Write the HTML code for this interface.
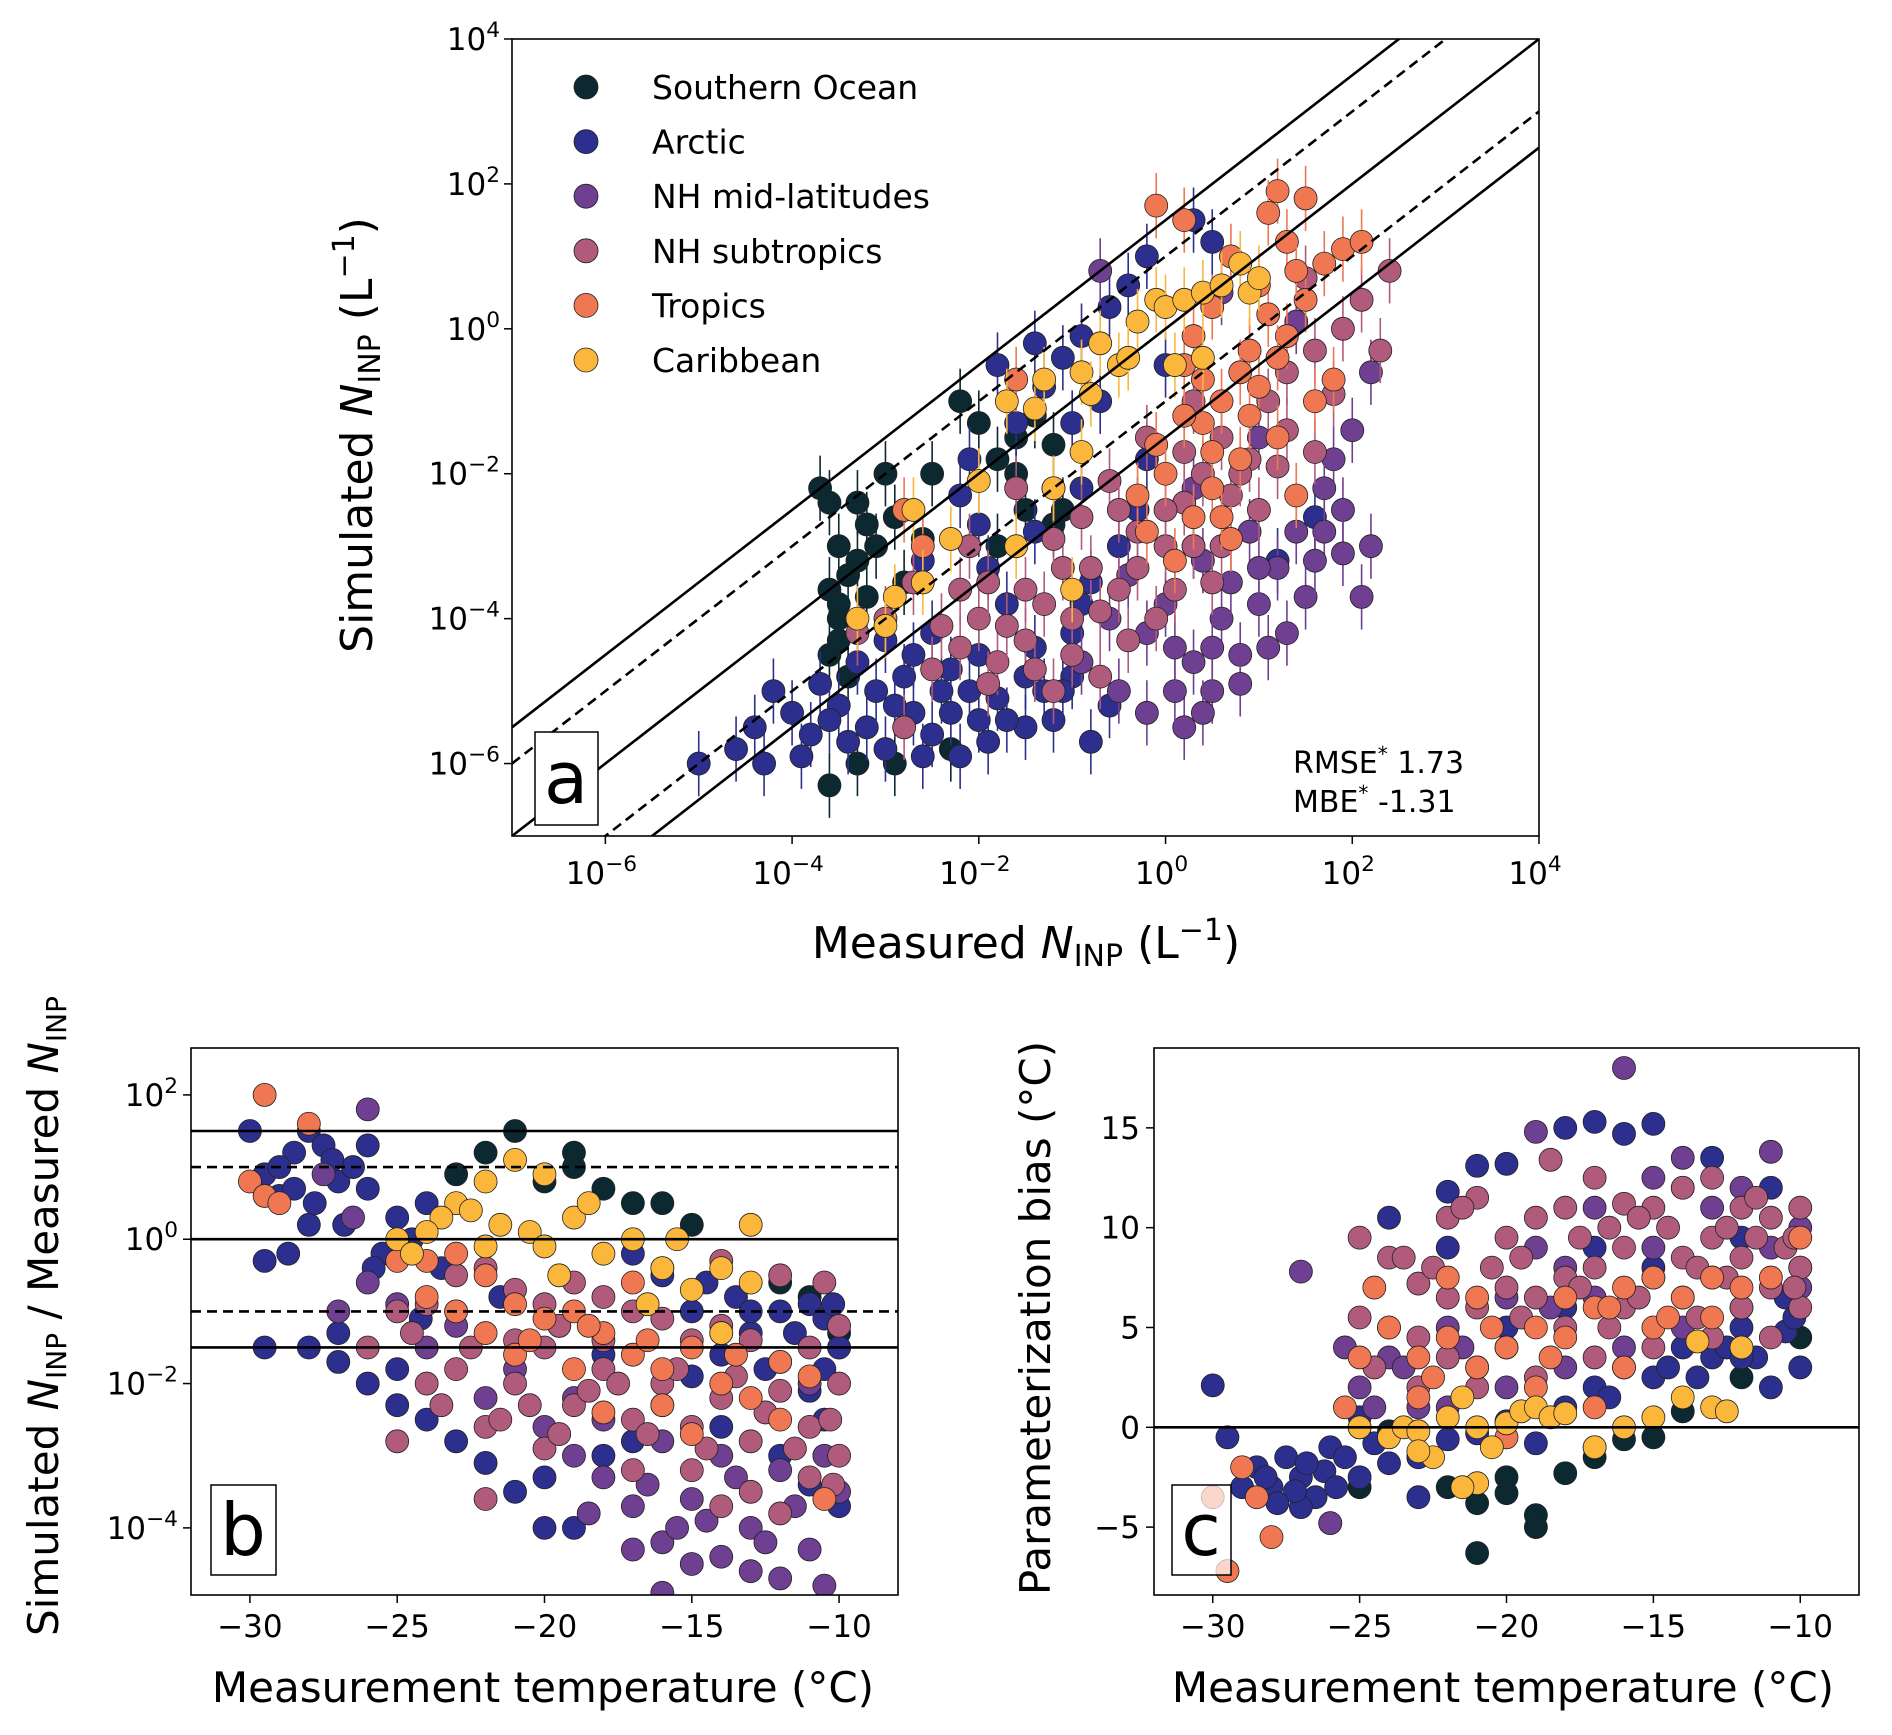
<!DOCTYPE html>
<html><head><meta charset="utf-8"><style>
html,body{margin:0;padding:0;background:#fff;}
svg{display:block;font-family:"DejaVu Sans","Liberation Sans",sans-serif;}
</style></head><body>
<svg id="fig" width="1892" height="1735" viewBox="0 0 1892 1735" xmlns="http://www.w3.org/2000/svg"></svg>
<script>
const seriesNames = ["Southern Ocean","Arctic","NH mid-latitudes","NH subtropics","Tropics","Caribbean"];
const seriesColors = ["#0c2831","#2c2f8e","#6f3f92","#b05a7c","#ef7752","#fbb73c"];
// Panel a: [log10 measured, log10 simulated]
const aSO = [[-3.7,-2.2],[-3.6,-2.4],[-3.3,-2.4],[-3.0,-2.0],[-3.2,-2.7],[-3.5,-3.0],[-3.4,-3.4],[-3.6,-3.6],[-3.5,-4.0],[-3.6,-4.5],[-3.4,-4.8],[-3.6,-6.3],[-2.2,-1.0],[-2.0,-1.3],[-1.6,-1.5],[-1.4,-1.2],[-1.2,-1.6],[-1.5,-2.5],[-1.2,-2.7],[-1.1,-2.5],[-2.5,-2.0],[-2.8,-3.5],[-2.3,-5.8],[-2.9,-6.0],[-3.3,-6.0],[-1.8,-3.0],[-3.1,-3.0],[-2.9,-2.6],[-3.5,-3.8],[-1.8,-1.8],[-1.6,-2.0],[-3.3,-3.2],[-3.5,-4.3],[-3.2,-3.7],[-2.6,-2.9]];
const aArctic = [[-5,-6],[-4.6,-5.8],[-4.3,-6.0],[-4.0,-5.3],[-4.2,-5.0],[-3.8,-5.6],[-3.5,-5.2],[-3.2,-5.5],[-3.0,-5.8],[-2.7,-5.3],[-2.5,-5.6],[-2.2,-5.9],[-2.0,-5.4],[-1.8,-5.1],[-1.5,-5.5],[-1.5,-4.8],[-1.3,-5.0],[-2.4,-5.0],[-2.8,-4.8],[-3.3,-4.6],[-2.0,-4.5],[-1.0,-4.2],[-0.8,-3.5],[-1.7,-3.8],[-2.6,-3.2],[-2.2,-2.3],[-2.1,-1.8],[-1.6,-1.3],[-1.3,-0.8],[-1.1,-0.4],[-0.9,-0.1],[-0.6,0.3],[-0.4,0.6],[-0.2,1.0],[0.3,1.5],[0.5,1.2],[-0.3,-2.5],[0.3,-3.0],[1.2,-3.2],[1.6,-2.6],[-0.8,-5.7],[-1.0,-4.8],[-0.5,-3.0],[0.0,-0.5],[-3.9,-5.9],[-3.4,-5.7],[-2.9,-5.2],[-2.3,-5.3],[-1.9,-5.7],[-1.2,-5.4],[-3.7,-4.9],[-3.0,-4.3],[-2.5,-4.2],[-1.9,-3.3],[-1.4,-2.8],[-0.9,-2.2],[-0.7,-1.0],[-1.8,-0.5],[-1.4,-0.2],[-0.2,-1.8],[-3.6,-5.4],[-3.1,-5.0],[-2.6,-5.9],[-2.1,-5.0],[-1.7,-5.4],[-1.1,-5.0],[-4.4,-5.5],[-2.7,-4.5],[-2.3,-4.7],[-1.4,-4.4],[-0.6,-5.2],[-0.9,-3.8],[-2.0,-2.7],[-1.0,-1.3]];
const aMid = [[-0.5,-5.0],[-0.2,-5.3],[0.2,-5.5],[0.5,-5.0],[0.8,-4.5],[0.6,-4.0],[1.0,-3.8],[1.2,-3.3],[1.5,-3.7],[1.3,-4.2],[0.3,-4.6],[-0.2,-4.2],[1.7,-2.8],[1.9,-2.5],[2.2,-3.0],[2.1,-3.7],[0.4,-3.2],[0.9,-2.8],[0.0,-3.8],[1.8,-1.8],[2.0,-1.4],[-0.7,0.8],[0.6,0.5],[1.4,0.1],[2.2,-0.6],[1.0,-1.5],[-0.9,-4.6],[-0.4,-3.4],[0.7,-3.5],[1.6,-3.2],[-0.6,-4.0],[0.1,-5.0],[1.1,-4.4],[0.3,-2.2],[0.8,-4.9],[0.4,-5.3],[1.4,-2.8],[1.0,-3.3],[0.5,-4.4],[1.7,-2.2],[0.1,-4.4],[1.9,-3.1]];
const aSub = [[-3.3,-4.2],[-3.0,-4.0],[-2.8,-5.5],[-2.5,-4.7],[-2.2,-4.4],[-2.0,-4.0],[-1.8,-4.6],[-1.5,-4.3],[-1.3,-3.8],[-1.0,-4.0],[-0.8,-3.3],[-0.5,-3.6],[-0.3,-2.8],[0.0,-3.0],[0.2,-2.4],[0.4,-2.0],[0.6,-1.5],[0.9,-1.8],[1.1,-1.0],[1.3,-0.6],[1.6,-0.3],[1.9,0.0],[2.1,0.4],[2.4,0.8],[1.6,-1.7],[0.5,-3.5],[-0.9,-2.6],[-2.1,-3.0],[-1.6,-2.2],[-0.2,-1.5],[1.0,-2.5],[2.3,-0.3],[-1.2,-5.0],[-0.7,-4.8],[0.3,-1.0],[1.5,0.7],[-2.7,-3.5],[-2.4,-4.1],[-1.9,-3.5],[-1.1,-3.3],[-0.4,-4.3],[0.1,-3.6],[0.7,-2.3],[1.3,-1.4],[1.8,-0.9],[-1.5,-3.6],[-0.6,-2.1],[0.2,-1.7],[-1.7,-4.1],[-1.4,-4.7],[-1.0,-4.5],[-0.7,-3.9],[-0.3,-3.3],[0.0,-2.5],[0.3,-3.0],[-0.5,-2.5],[-1.2,-2.9],[-2.2,-3.6],[-1.9,-4.9],[-0.1,-4.0],[0.6,-3.0],[0.8,-2.0],[1.2,-1.9]];
const aTrop = [[-0.2,-2.8],[0.1,-3.2],[0.3,-2.6],[0.5,-2.2],[0.7,-2.9],[0.8,-1.8],[0.4,-1.3],[0.6,-1.0],[1.0,-0.8],[1.2,-1.5],[0.9,-0.3],[1.1,0.2],[1.3,-0.1],[1.5,0.4],[1.7,0.9],[1.9,1.1],[1.3,1.2],[1.0,0.6],[0.2,-0.5],[-0.1,-1.6],[0.5,0.3],[0.7,1.0],[1.4,-2.3],[1.8,-0.7],[2.1,1.2],[0.2,1.5],[-0.1,1.7],[1.2,1.9],[1.5,1.8],[1.1,1.6],[-2.8,-2.5],[-2.6,-3.0],[-1.6,-0.7],[-1.2,-2.2],[0.0,-2.0],[1.6,-1.0],[0.3,-0.1],[0.8,-0.6],[1.4,0.8],[0.6,-2.6],[0.2,-1.2],[0.5,-1.7],[0.9,-1.2],[1.2,-0.4],[-0.3,-2.3],[0.4,-0.7]];
const aCarib = [[-2.3,-2.9],[-2.6,-3.5],[-3.3,-4.0],[-2.9,-3.7],[-3.0,-4.1],[-2.7,-2.5],[-2.0,-2.1],[-1.7,-1.0],[-1.4,-1.1],[-1.2,-2.2],[-1.0,-3.6],[-1.6,-3.0],[-1.3,-0.7],[-0.9,-0.6],[-0.8,-0.9],[-0.7,-0.2],[-0.5,-0.5],[-0.3,0.1],[-0.1,0.4],[0.0,0.3],[0.2,0.4],[0.4,0.5],[0.6,0.6],[0.8,0.9],[0.9,0.5],[1.0,0.7],[0.4,-0.4],[0.1,-0.5],[-0.4,-0.4],[-0.9,-1.7]];
// Panel b: [temperature, log10 ratio]
const bSO = [[-21,1.5],[-22,1.2],[-19,1.2],[-19,1.0],[-23,0.9],[-18,0.7],[-17,0.5],[-16,0.5],[-15,0.2],[-12,-0.6],[-11,-0.8],[-10,-1.3],[-10,-1.5],[-20,0.8]];
const bArctic = [[-30,1.5],[-29.5,0.9],[-29,0.6],[-28.5,1.2],[-28,1.5],[-27.5,1.3],[-27,0.8],[-26.5,1.0],[-26,0.7],[-25,0.3],[-24,0.5],[-29.5,-0.3],[-28.7,-0.2],[-28,-1.5],[-27,-1.7],[-26,-2.0],[-25,-2.3],[-24,-2.5],[-23,-2.8],[-22,-3.1],[-21,-3.5],[-20,-3.3],[-19,-4.0],[-18,-3.0],[-17,-2.8],[-16,-2.3],[-15,-1.9],[-14,-1.6],[-13,-1.3],[-12,-1.0],[-11,-0.9],[-10.5,-1.1],[-10,-1.5],[-16,-0.5],[-14.5,-0.6],[-13.5,-0.8],[-20,-4.0],[-29.5,-1.5],[-27,-1.3],[-25,-1.8],[-12,-3.0],[-11,-3.4],[-10,-3.7],[-10.5,-2.5],[-15,-1.0],[-28,0.2],[-26,1.3],[-24.5,0.0],[-17,-0.2],[-28.5,0.7],[-27.2,1.1],[-25.5,-0.2],[-23.5,-0.4],[-21.5,-0.8],[-19.5,-1.2],[-18,-1.6],[-14,-2.6],[-12.5,-1.8],[-11,-2.1],[-10.2,-0.9],[-29,1.0],[-27.8,0.5],[-26.8,0.2],[-25.8,-0.4],[-24.2,-1.1],[-13,-1.0],[-11.5,-1.3],[-10.5,-1.8]];
const bMid = [[-26,1.8],[-27.5,0.9],[-26.5,0.3],[-27,-1.0],[-26,-0.6],[-25,-0.9],[-23,-1.2],[-21,-1.8],[-20,-2.6],[-19,-2.2],[-18,-3.3],[-17,-3.7],[-16,-4.2],[-16,-4.9],[-15,-4.5],[-14,-4.4],[-13,-4.0],[-12,-4.7],[-11,-4.3],[-10.5,-4.8],[-10,-3.5],[-12,-3.2],[-14,-3.0],[-16,-2.8],[-18,-2.5],[-22,-2.2],[-24,-1.5],[-15,-3.6],[-13,-4.6],[-17,-4.3],[-19,-3.0],[-11,-2.0],[-18.5,-3.8],[-15.5,-4.0],[-13.5,-3.3],[-11.5,-3.7],[-16.5,-3.4],[-14.5,-3.9],[-12.5,-4.2],[-10.5,-3.0]];
const bSub = [[-25,-2.8],[-26,-1.5],[-24,-2.0],[-23,-1.8],[-22,-2.6],[-21,-2.0],[-20,-1.5],[-19,-2.3],[-18,-1.8],[-17,-2.5],[-16,-2.0],[-15,-2.6],[-14,-2.2],[-13,-2.8],[-12,-2.1],[-11,-2.6],[-10,-2.0],[-10,-1.2],[-11,-1.5],[-12,-1.7],[-13,-1.4],[-14,-1.2],[-15,-1.4],[-16,-1.1],[-17,-1.0],[-18,-0.8],[-19,-0.6],[-20,-0.9],[-21,-0.7],[-22,-0.4],[-23,-0.5],[-24,-0.9],[-25,-1.0],[-10,-3.0],[-11,-3.3],[-13,-3.5],[-15,-3.2],[-17,-3.2],[-12,-3.8],[-14,-3.7],[-20,-2.9],[-22,-3.6],[-16,-0.4],[-14,-0.3],[-12,-0.5],[-10.5,-0.6],[-18,-1.4],[-23,-1.0],[-21,-1.4],[-24.5,-1.3],[-22.5,-1.5],[-20.5,-2.3],[-18.5,-2.1],[-16.5,-2.7],[-14.5,-2.9],[-12.5,-2.4],[-10.3,-2.5],[-19.5,-1.2],[-23.5,-2.3],[-21.5,-2.5],[-19.5,-2.7],[-17.5,-2.0],[-15.5,-1.8],[-13.5,-1.9],[-11.5,-2.9],[-10.2,-3.4]];
const bTrop = [[-29.5,2.0],[-30,0.8],[-29.5,0.6],[-29,0.5],[-28,1.6],[-25,-0.3],[-24,-0.3],[-23,-0.2],[-22,-0.5],[-21,-0.9],[-20,-1.1],[-19,-1.0],[-18,-1.3],[-17,-1.6],[-16,-1.8],[-15,-1.5],[-14,-2.0],[-13,-2.2],[-12,-1.7],[-11,-1.9],[-10.5,-3.6],[-17,-0.6],[-16,-2.3],[-18,-2.4],[-22,-1.3],[-24,-0.8],[-21,-1.6],[-23,-1.0],[-14,-1.3],[-12,-2.5],[-19,-1.8],[-15,-2.7],[-20.5,-1.4],[-18.5,-1.2],[-16.5,-1.4],[-13.5,-1.6]];
const bCarib = [[-21,1.1],[-22,0.8],[-23,0.5],[-23.5,0.3],[-24,0.1],[-22.5,0.4],[-21.5,0.2],[-20.5,0.1],[-20,-0.1],[-19,0.3],[-18.5,0.5],[-18,-0.2],[-17,0.0],[-16,-0.4],[-15,-0.7],[-14,-0.4],[-13,-0.6],[-25,0.0],[-24.5,-0.2],[-19.5,-0.5],[-22,-0.1],[-16.5,-0.9],[-14,-1.3],[-13,0.2],[-15.5,0.0],[-20,0.9]];
// Panel c: [temperature, bias]
const cSO = [[-24,-0.2],[-23,-1.5],[-22,-3.0],[-21,-6.3],[-21,-3.8],[-20,-3.3],[-19,-4.4],[-19,-5.0],[-18,-2.3],[-17,-1.5],[-16,-0.6],[-15,-0.5],[-14,0.8],[-12,2.5],[-10,4.5],[-20,-2.5],[-25,-3.0]];
const cArctic = [[-30,2.1],[-29.5,-0.5],[-29,-3.0],[-28.5,-2.0],[-28,-3.0],[-27.5,-1.5],[-27,-2.5],[-26.5,-3.5],[-26,-1.0],[-26,-4.8],[-25,0.5],[-24,-1.8],[-23,-1.5],[-22,-0.6],[-21,-0.3],[-20,0.3],[-19,-0.8],[-18,1.0],[-17,2.0],[-16,3.0],[-15,2.5],[-14,4.0],[-13,3.5],[-12,5.0],[-11,2.0],[-10,3.0],[-24,10.5],[-22,11.8],[-21,13.1],[-20,13.2],[-18,15.0],[-17,15.3],[-16,14.7],[-15,15.2],[-13,13.5],[-11,12.0],[-15,8.0],[-18,6.0],[-20,5.0],[-17,9.0],[-12,9.5],[-10,8.0],[-22,9.0],[-14,12.0],[-27,-4.0],[-25,-2.5],[-23,-3.5],[-10.5,4.8],[-28.2,-2.5],[-27.2,-3.2],[-26.2,-2.2],[-25.5,-1.5],[-24.5,-0.8],[-16.5,1.5],[-13.5,2.5],[-12.5,4.0],[-11.5,3.5],[-10.5,6.5],[-27.8,-3.8],[-26.8,-1.8],[-25.8,-3.0],[-14.5,3.0],[-12,3.5],[-10.2,5.5]];
const cMid = [[-27,7.8],[-25.5,4.0],[-25,2.0],[-24,3.5],[-23,1.0],[-22,5.0],[-21,3.0],[-20,6.5],[-19,9.0],[-18,8.0],[-17,11.0],[-16,18.0],[-15,12.5],[-14,13.5],[-13,11.0],[-12,12.0],[-11,13.8],[-10,10.0],[-10,7.0],[-12,6.0],[-14,5.0],[-16,4.0],[-18,3.0],[-20,2.0],[-22,1.0],[-19,14.8],[-26,-4.8],[-25,0.0],[-17,6.5],[-13,7.5],[-11,9.0],[-15,9.0],[-24.5,1.0],[-23.5,3.0],[-21.5,4.0],[-18.5,6.0]];
const cSub = [[-25,9.5],[-24,8.5],[-23,7.2],[-22,10.5],[-21,11.5],[-20,9.5],[-19,10.5],[-18,11.0],[-17,12.5],[-16,11.2],[-15,11.0],[-14,12.0],[-13,12.5],[-12,11.0],[-11,10.5],[-10,11.0],[-10,8.0],[-11,7.0],[-12,8.5],[-13,9.5],[-14,8.5],[-15,7.5],[-16,9.0],[-17,8.0],[-18,7.5],[-19,6.5],[-20,7.0],[-21,6.0],[-22,6.5],[-23,4.5],[-24,5.0],[-25,5.5],[-24.5,3.0],[-22,3.5],[-20,4.0],[-18,5.0],[-16,6.0],[-14,6.5],[-12,6.0],[-10,6.0],[-11,4.5],[-13,4.5],[-15,4.0],[-17,3.5],[-19,2.5],[-21,2.0],[-23,2.0],[-18.5,13.4],[-21.5,11.0],[-12.5,10.0],[-10.5,9.0],[-16.5,10.0],[-14.5,10.0],[-23.5,8.5],[-20.5,8.0],[-17.5,9.5],[-15.5,10.5],[-13.5,8.0],[-11.5,9.5],[-10.2,9.5],[-19.5,5.5],[-16.5,5.0],[-13.5,5.5],[-22.5,8.0],[-19.5,8.5],[-17.5,7.0],[-15.5,6.5],[-12.5,7.5],[-11.5,11.5],[-10.2,7.0]];
const cTrop = [[-30,-3.5],[-29.5,-7.2],[-29,-2.0],[-28.5,-3.5],[-28,-5.5],[-25.5,1.0],[-24.5,7.0],[-25,3.5],[-24,5.0],[-23,3.5],[-22,4.5],[-21,3.0],[-20,4.0],[-19,5.0],[-18,4.5],[-17,6.0],[-16,7.0],[-15,7.5],[-14,6.5],[-13,7.5],[-12,7.0],[-10,9.5],[-21,6.5],[-19,2.0],[-17,1.0],[-23,1.5],[-22,7.5],[-15,5.0],[-18,6.5],[-20,-0.5],[-17,-1.0],[-16,3.0],[-13,5.5],[-11,7.5],[-22.5,2.5],[-20.5,5.0],[-18.5,3.5],[-16.5,6.0],[-14.5,5.5]];
const cCarib = [[-25,0.0],[-24,-0.5],[-23.5,0.0],[-23,-0.2],[-22.5,-1.5],[-22,0.5],[-21.5,1.5],[-21,0.0],[-21,-2.8],[-20.5,-1.0],[-20,0.2],[-19.5,0.8],[-19,1.0],[-18.5,0.5],[-18,0.7],[-17,-1.0],[-16,0.0],[-15,0.5],[-14,1.5],[-13,1.0],[-12.5,0.8],[-12,4.0],[-13.5,4.3],[-23,-1.2],[-21.5,-3.0]];
const aTicks = [-6,-4,-2,0,2,4];
const aYTicks = [4,2,0,-2,-4,-6];
const bYTicks = [2,0,-2,-4];
const tTicks = [-30,-25,-20,-15,-10];
const cYTicks = [-5,0,5,10,15];
const aLineFactors = [1.5,1,0,-1,-1.5];
const bLineValues = [1.5,1,0,-1,-1.5];

const NS="http://www.w3.org/2000/svg";
const svg=document.getElementById('fig');
function mk(tag,attrs,parent){const e=document.createElementNS(NS,tag);for(const k in attrs)e.setAttribute(k,attrs[k]);(parent||svg).appendChild(e);return e;}
function lin(d0,d1,r0,r1){return v=>r0+(v-d0)*(r1-r0)/(d1-d0);}

const AX0=512,AX1=1539,AY0=39,AY1=836;
const ax=lin(-7,4,AX0,AX1), ay=lin(-7,4,AY1,AY0);
const bx=lin(-32,-8,191,898), by=lin(-4.93,2.65,1595,1048);
const cx=lin(-32,-8,1154,1859), cy=lin(-8.4,19,1595,1048);

function clip(id,x,y,w,h){const d=mk('clipPath',{id:id});mk('rect',{x:x,y:y,width:w,height:h},d);}
clip('ca',AX0,AY0,AX1-AX0,AY1-AY0);clip('cb',191,1048,707,547);clip('cc',1154,1048,705,547);

function text(x,y,s,size,anchor,parent){const t=mk('text',{x:x,y:y,'font-size':size,'text-anchor':anchor||'middle',fill:'#000'},parent);t.textContent=s;return t;}
function pow10(x,y,e,size,anchor,parent){const t=mk('text',{x:x,y:y,'font-size':size,'text-anchor':anchor,fill:'#000'},parent);
 const a=document.createElementNS(NS,'tspan');a.textContent='10';t.appendChild(a);
 const b=document.createElementNS(NS,'tspan');b.setAttribute('dy',-size*0.42);b.setAttribute('font-size',size*0.7);b.textContent=(e<0?'\u2212':'')+Math.abs(e);t.appendChild(b);return t;}

function scatter(g,data,color,X,Y,err){
 data.forEach(p=>{
  if(err){const l=mk('line',{x1:X(p[0]),x2:X(p[0]),y1:Y(p[1]-0.45),y2:Y(p[1]+0.45),stroke:color,'stroke-width':1.6},g);
   
   }
  const c=mk('circle',{cx:X(p[0]),cy:Y(p[1]),r:11.5,fill:color,stroke:'#222','stroke-width':0.8},g);
  
  
 });
}

// ---------- Panel a ----------
const ga=mk('g',{});
const gaData=mk('g',{'clip-path':'url(#ca)'},ga);


[aSO,aArctic,aMid,aSub,aTrop,aCarib].forEach((d,i)=>scatter(gaData,d,seriesColors[i],ax,ay,true));
aLineFactors.forEach(f=>{
 const l=mk('line',{x1:ax(-7),y1:ay(-7+f),x2:ax(4),y2:ay(4+f),stroke:'#000','stroke-width':2.6,'stroke-dasharray':(Math.abs(f)===1?'10,6':'none')},gaData);
 
 
});
mk('rect',{x:AX0,y:AY0,width:AX1-AX0,height:AY1-AY0,fill:'none',stroke:'#000','stroke-width':1.6},ga);
aTicks.forEach(t=>{
 mk('line',{x1:ax(t),x2:ax(t),y1:AY1,y2:AY1+8,stroke:'#000','stroke-width':1.5},ga);
 const tl=pow10(ax(t)-4,884,t,31,'middle',ga);
});
aYTicks.forEach(t=>{
 mk('line',{x1:AX0-8,x2:AX0,y1:ay(t),y2:ay(t),stroke:'#000','stroke-width':1.5},ga);
 const tl=pow10(500,ay(t)+11,t,31,'end',ga);
});
const lg=mk('g',{},ga);
seriesNames.forEach((n,i)=>{
 const y=87+i*54.6;
 const c=mk('circle',{cx:586,cy:y,r:12,fill:seriesColors[i],stroke:'#222','stroke-width':0.8},lg);
 
 const t=text(652,y+12,n,33,'start',lg);
});
const la=mk('rect',{x:535,y:732,width:63,height:93,fill:'#fff',stroke:'#000','stroke-width':1.5},ga);

text(566,803,'a',72,'middle',ga);
const r1=mk('text',{x:1293,y:773,'font-size':30,fill:'#000'},ga);
r1.innerHTML='RMSE<tspan dy="-12" font-size="20">*</tspan><tspan dy="12"> 1.73</tspan>';
const r2=mk('text',{x:1293,y:812,'font-size':30,fill:'#000'},ga);
r2.innerHTML='MBE<tspan dy="-12" font-size="20">*</tspan><tspan dy="12"> -1.31</tspan>';
const xa=mk('text',{x:1026,y:958,'font-size':44,'text-anchor':'middle',fill:'#000'},ga);
xa.innerHTML='Measured <tspan font-style="italic">N</tspan><tspan font-size="30" dy="8">INP</tspan><tspan dy="-8"> (L</tspan><tspan font-size="30" dy="-18">\u22121</tspan><tspan dy="18">)</tspan>';
const ya=mk('text',{x:0,y:0,'font-size':44,'text-anchor':'middle',fill:'#000',transform:'translate(372,435) rotate(-90)'},ga);
ya.innerHTML='Simulated <tspan font-style="italic">N</tspan><tspan font-size="30" dy="8">INP</tspan><tspan dy="-8"> (L</tspan><tspan font-size="30" dy="-18">\u22121</tspan><tspan dy="18">)</tspan>';

// ---------- Panel b ----------
const gb=mk('g',{});
const gbData=mk('g',{'clip-path':'url(#cb)'},gb);


[bSO,bArctic,bMid,bSub,bTrop,bCarib].forEach((d,i)=>scatter(gbData,d,seriesColors[i],bx,by,false));
bLineValues.forEach(v=>{
 const l=mk('line',{x1:191,x2:898,y1:by(v),y2:by(v),stroke:'#000','stroke-width':2.6,'stroke-dasharray':(Math.abs(v)===1?'10,6':'none')},gbData);
 
});
mk('rect',{x:191,y:1048,width:707,height:547,fill:'none',stroke:'#000','stroke-width':1.6},gb);
tTicks.forEach(t=>{
 mk('line',{x1:bx(t),x2:bx(t),y1:1595,y2:1603,stroke:'#000','stroke-width':1.5},gb);
 const tl=text(bx(t),1637,(t<0?'\u2212':'')+Math.abs(t),31,'middle',gb);
});
bYTicks.forEach(t=>{
 mk('line',{x1:183,x2:191,y1:by(t),y2:by(t),stroke:'#000','stroke-width':1.5},gb);
 const tl=pow10(178,by(t)+11,t,31,'end',gb);
});
mk('rect',{x:211,y:1485,width:65,height:90,fill:'#fff',stroke:'#000','stroke-width':1.5},gb);
text(243,1555,'b',72,'middle',gb);
text(543,1702,'Measurement temperature (\u00b0C)',42,'middle',gb);
const yb=mk('text',{x:0,y:0,'font-size':42,'text-anchor':'middle',fill:'#000',transform:'translate(58,1316) rotate(-90)'},gb);
yb.innerHTML='Simulated <tspan font-style="italic">N</tspan><tspan font-size="28" dy="8">INP</tspan><tspan dy="-8"> / Measured </tspan><tspan font-style="italic">N</tspan><tspan font-size="28" dy="8">INP</tspan>';

// ---------- Panel c ----------
const gc=mk('g',{});
const gcData=mk('g',{'clip-path':'url(#cc)'},gc);


[cSO,cArctic,cMid,cSub,cTrop,cCarib].forEach((d,i)=>scatter(gcData,d,seriesColors[i],cx,cy,false));
const zl=mk('line',{x1:1154,x2:1859,y1:cy(0),y2:cy(0),stroke:'#000','stroke-width':2.6},gcData);

mk('rect',{x:1154,y:1048,width:705,height:547,fill:'none',stroke:'#000','stroke-width':1.6},gc);
tTicks.forEach(t=>{
 mk('line',{x1:cx(t),x2:cx(t),y1:1595,y2:1603,stroke:'#000','stroke-width':1.5},gc);
 const tl=text(cx(t),1637,(t<0?'\u2212':'')+Math.abs(t),31,'middle',gc);
});
cYTicks.forEach(t=>{
 mk('line',{x1:1146,x2:1154,y1:cy(t),y2:cy(t),stroke:'#000','stroke-width':1.5},gc);
 const tl=text(1140,cy(t)+11,(t<0?'\u2212':'')+Math.abs(t),31,'end',gc);
});
mk('rect',{x:1172,y:1485,width:59,height:90,fill:'#fff','fill-opacity':0.7,stroke:'#000','stroke-width':1.5},gc);
text(1201,1555,'c',72,'middle',gc);
text(1503,1702,'Measurement temperature (\u00b0C)',42,'middle',gc);
const yc=mk('text',{x:0,y:0,'font-size':42,'text-anchor':'middle',fill:'#000',transform:'translate(1050,1318) rotate(-90)'},gc);
yc.textContent='Parameterization bias (\u00b0C)';
</script>
</body></html>
